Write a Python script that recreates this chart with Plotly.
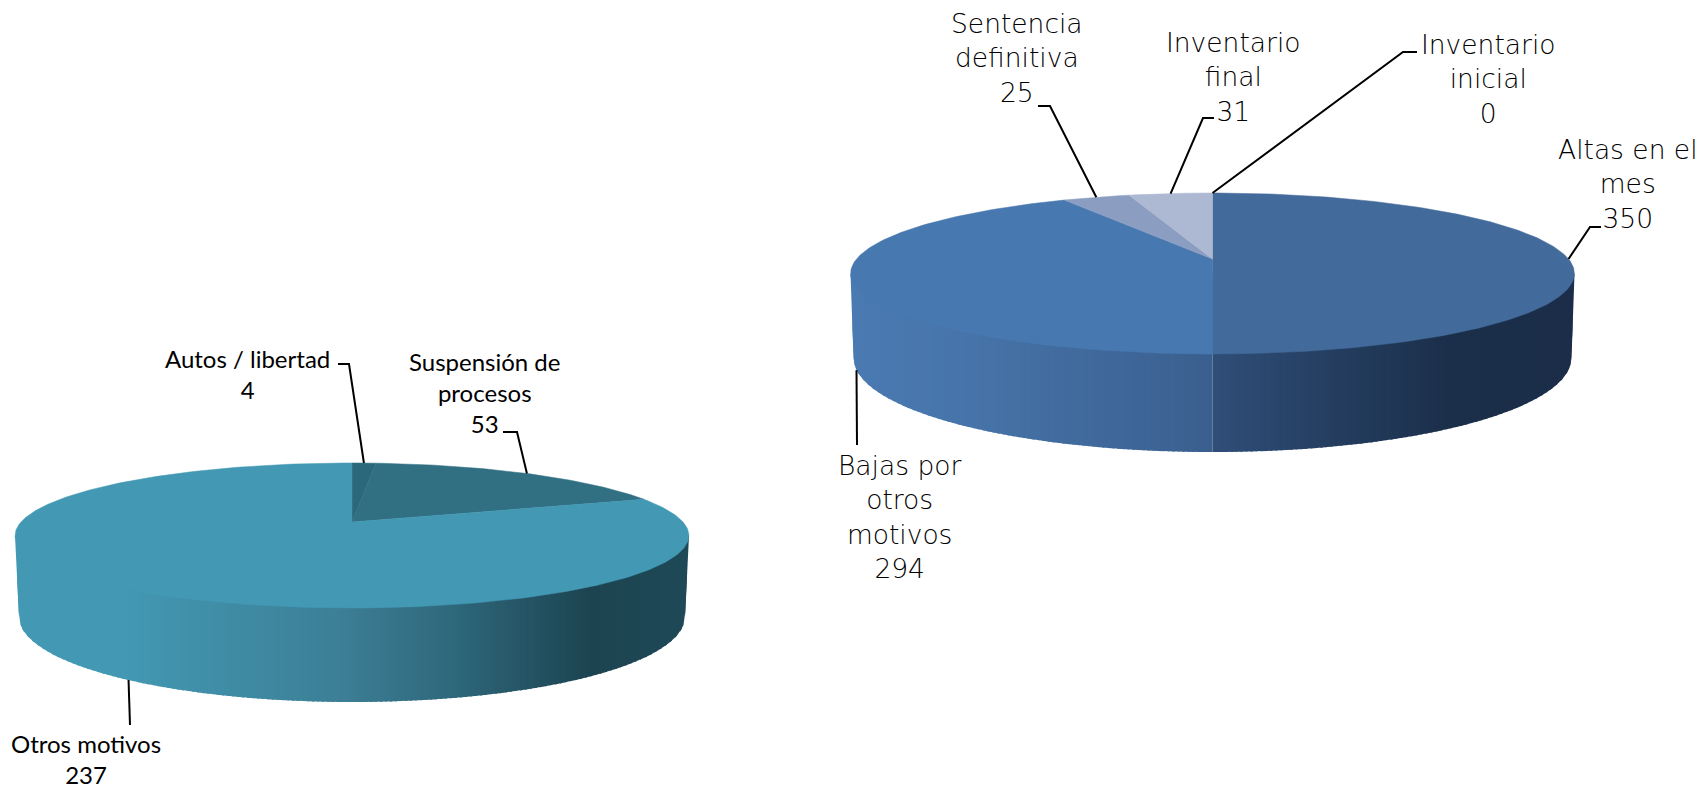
import math
import plotly.graph_objects as go

# ---- data ----
left_names = ["Autos / libertad", "Suspensión de<br>procesos", "Otros motivos"]
left_values = [4, 53, 237]
left_colors = ["#2b687c", "#316f83", "#4399b4"]

right_names = ["Inventario<br>inicial", "Altas en el<br>mes", "Bajas por<br>otros<br>motivos",
               "Sentencia<br>definitiva", "Inventario<br>final"]
right_values = [0, 350, 294, 25, 31]
right_colors = ["#426a9b", "#426a9b", "#4878b0", "#8b9ec2", "#adb9d2"]

# ---- pie geometry (pixels of the 1701x785 axes) ----
left_geom = dict(cx=352, cy=522, a=70, b=331, k=0.186, rxt=337, cyt=535.5,
                 rxb=333, ryb=85, cyb=617)
right_geom = dict(cx=1212.5, cy=259, a=77.9, b=356, k=0.18, rxt=362, cyt=273.5,
                  rxb=359, ryb=94, cyb=358)
left_side_stops = [(15, "#4399b4"), (115, "#4399b4"), (352, "#3b7d94"), (450, "#2f697d"),
                   (593, "#1c4350"), (688, "#1f4957")]
right_side_stops = [(850, "#4a7ab2"), (950, "#4775ab"), (1212.4, "#3a5f8e"), (1212.6, "#2f4e78"),
                    (1450, "#1b2f4a"), (1580, "#1b2d48")]

# label placement: text centre (x, y), leader elbow points from text to pie
left_label_pos = [(247, 374), (484, 392), (86, 759)]
left_elbows = [[(338, 364), (349, 364)], [(503, 432), (517, 432)], [(130, 725)]]
right_label_pos = [(1488, 79), (1628, 184), (899, 517), (1017, 58), (1233, 77)]
right_elbows = [[(1417, 52), (1403, 52)], [(1601, 227), (1590, 227)], [(857, 445)],
                [(1038, 106), (1050, 106)], [(1214, 118), (1203, 118)]]

LEFT_FONT = dict(family="Lato", size=24, color="#000000", weight=400)
RIGHT_FONT = dict(family="DejaVu Sans Light, DejaVu Sans", size=26.5, color="#000000", weight=200)


def project(g, theta):
    """Clockwise angle from 12 o'clock -> point on the tilted top face."""
    s, c = math.sin(theta), math.cos(theta)
    d = 1 + g["k"] * c
    return g["cx"] + g["b"] * s / d, g["cy"] - g["a"] * c / d


def side_bottom(g, x):
    dx = abs(x - g["cx"])
    if dx <= g["rxb"]:
        return g["cyb"] + g["ryb"] * math.sqrt(1 - (dx / g["rxb"]) ** 2)
    f = min(1, (dx - g["rxb"]) / (g["rxt"] - g["rxb"]))
    return g["cyb"] - f * (g["cyb"] - g["cyt"])


def hex_rgb(h):
    return tuple(int(h[i:i + 2], 16) for i in (1, 3, 5))


def stop_color(stops, x):
    if x <= stops[0][0]:
        return stops[0][1]
    for (x0, c0), (x1, c1) in zip(stops, stops[1:]):
        if x <= x1:
            t = (x - x0) / (x1 - x0)
            a, b = hex_rgb(c0), hex_rgb(c1)
            return "rgb(%d,%d,%d)" % tuple(round(p + (q - p) * t) for p, q in zip(a, b))
    return stops[-1][1]


fig = go.Figure()


def draw_strip(g, stops, x_inner, x_outer, x_cover):
    """One band of the side wall; x_cover reaches a little under the previous band."""
    xa, xb = sorted((x_cover, x_outer))
    xs, ys = [xa, xb], [g["cyt"], g["cyt"]]
    n = 4
    for i in range(n, -1, -1):
        xi = xa + (xb - xa) * i / n
        xs.append(xi)
        ys.append(side_bottom(g, xi))
    col = stop_color(stops, (x_inner + x_outer) / 2)
    fig.add_trace(go.Scatter(x=xs, y=ys, mode="lines", fill="toself", fillcolor=col,
                             line=dict(width=0), hoverinfo="skip", showlegend=False))


def draw_side(g, stops):
    step = 5.0
    for sign in (-1, 1):
        x = g["cx"]
        end = g["cx"] + sign * g["rxt"]
        first = True
        while (end - x) * sign > 0:
            nx = x + sign * step
            if (end - nx) * sign < 0:
                nx = end
            cover = x if first else x - sign * 2
            draw_strip(g, stops, x, nx, cover)
            first = False
            x = nx


def draw_pie(g, names, values, colors, font, label_pos, elbows, stops):
    draw_side(g, stops)
    total = sum(values)
    acc = 0
    mids = []
    for name, val, col in zip(names, values, colors):
        t0 = acc / total * 2 * math.pi
        t1 = (acc + val) / total * 2 * math.pi
        mids.append((t0 + t1) / 2)
        acc += val
        if val == 0:
            continue
        n = max(3, int(val / total * 360))
        pts = [project(g, t0 + (t1 - t0) * i / n) for i in range(n + 1)]
        xs = [g["cx"]] + [p[0] for p in pts] + [g["cx"]]
        ys = [g["cy"]] + [p[1] for p in pts] + [g["cy"]]
        fig.add_trace(go.Scatter(x=xs, y=ys, mode="lines", fill="toself", fillcolor=col,
                                 line=dict(color=col, width=0.5), showlegend=False,
                                 name=name.replace("<br>", " "), hoverinfo="name+text",
                                 text=[str(val)] * len(xs)))
    for name, val, mid, pos, elbow in zip(names, values, mids, label_pos, elbows):
        ax, ay = project(g, mid)
        if math.cos(mid) < -0.1:  # front of the pie: leader meets the lower rim
            ax = max(ax, g["cx"] - g["rxb"] + 3)
            ay = side_bottom(g, ax)
        xs = [p[0] for p in elbow] + [ax]
        ys = [p[1] for p in elbow] + [ay]
        fig.add_trace(go.Scatter(x=xs, y=ys, mode="lines", line=dict(color="#000000", width=2),
                                 hoverinfo="skip", showlegend=False))
        fig.add_annotation(x=pos[0], y=pos[1], xref="x", yref="y", text=f"{name}<br>{val}",
                           showarrow=False, font=font, align="center",
                           xanchor="center", yanchor="middle")


draw_pie(left_geom, left_names, left_values, left_colors, LEFT_FONT,
         left_label_pos, left_elbows, left_side_stops)
draw_pie(right_geom, right_names, right_values, right_colors, RIGHT_FONT,
         right_label_pos, right_elbows, right_side_stops)

fig.update_layout(
    width=1701, height=785, margin=dict(l=0, r=0, t=0, b=0),
    paper_bgcolor="#ffffff", plot_bgcolor="#ffffff", showlegend=False,
    xaxis=dict(range=[0, 1701], visible=False, fixedrange=True),
    yaxis=dict(range=[785, 0], visible=False, fixedrange=True),
)
fig.write_html("out.html", config=dict(displayModeBar=False),
               post_script="document.body.style.margin='0';document.body.style.overflow='hidden';")
